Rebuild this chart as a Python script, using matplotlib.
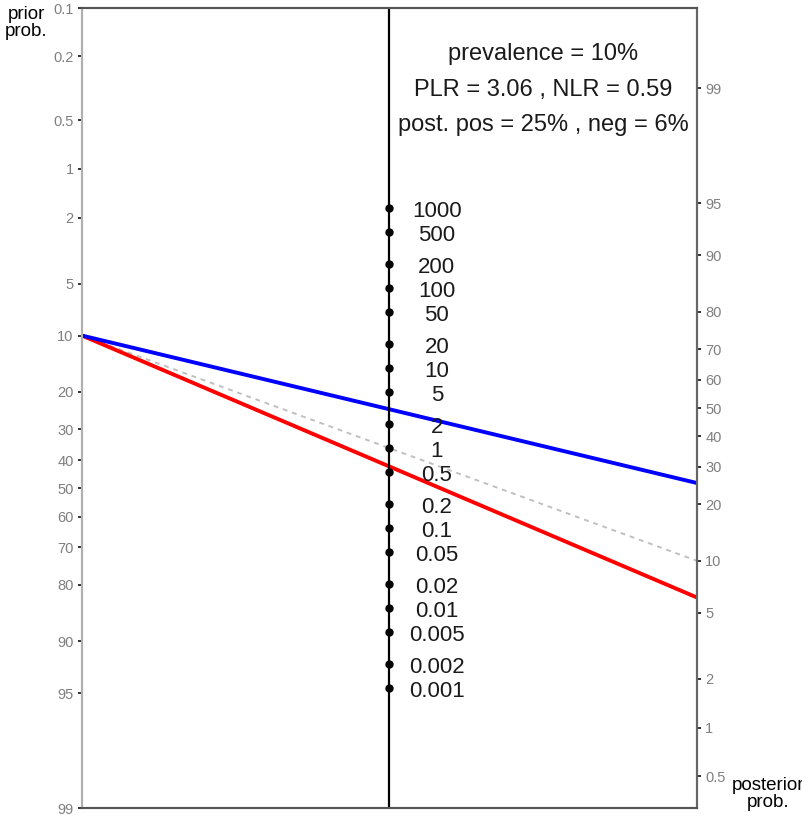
import numpy as np
import matplotlib
matplotlib.use("Agg")
import matplotlib.pyplot as plt

plt.rcParams['font.family'] = ['Liberation Sans', 'DejaVu Sans']

# data
prevalence = 10.0
plr = 3.06
nlr = 0.59
ticks_prob = [0.1, 0.2, 0.5, 1, 2, 5, 10, 20, 30, 40, 50, 60, 70, 80, 90, 95, 99]
ticks_lrs = [0.001, 0.002, 0.005, 0.01, 0.02, 0.05, 0.1, 0.2, 0.5,
             1, 2, 5, 10, 20, 50, 100, 200, 500, 1000]
lr_labels = ["0.001", "0.002", "0.005", "0.01", "0.02", "0.05", "0.1", "0.2", "0.5",
             "1", "2", "5", "10", "20", "50", "100", "200", "500", "1000"]


def logit(p):
    p = np.asarray(p, dtype=float)
    return np.log(p / (1 - p))


tick_lo = logit(np.array(ticks_prob) / 100)
adj_min, adj_max = tick_lo.min(), tick_lo.max()
scale_factor = abs(adj_min) - (adj_max - adj_min) / 2
ylims = (-adj_max, -adj_min)

prior_y = -logit(prevalence / 100)
pos_y = logit(prevalence / 100) + np.log(plr) + scale_factor
neg_y = logit(prevalence / 100) + np.log(nlr) + scale_factor
one_y = logit(prevalence / 100) + scale_factor

odds = prevalence / (100 - prevalence)
post_pos = 100 * odds * plr / (1 + odds * plr)
post_neg = 100 * odds * nlr / (1 + odds * nlr)

fig = plt.figure(figsize=(8.03, 8.17), dpi=100)
ax = fig.add_axes([82 / 803, 1 - 808 / 817, (697 - 82) / 803, 800 / 817])

# lines
ax.plot([-1, 1], [prior_y, one_y], color='#c0c0c0', lw=1.4, ls=(0, (2.5, 2.5)), zorder=2)
ax.plot([-1, 1], [prior_y, neg_y], color='#ff0000', lw=2.8, zorder=3)
ax.plot([-1, 1], [prior_y, pos_y], color='#0000ff', lw=2.8, zorder=3)

# middle LR axis
ax.axvline(0, color='black', lw=1.6, zorder=4)
lr_y = (np.log(ticks_lrs) + scale_factor) / 2
ax.plot(np.zeros(len(lr_y)), lr_y, 'o', color='black', ms=5, zorder=5)
for yy, lab in zip(lr_y, lr_labels):
    ax.text(0.154, yy - 0.045, lab, ha='center', va='center', fontsize=16, color='#1a1a1a')

# annotation
txt = dict(transform=ax.transAxes, ha='center', va='center', fontsize=17, color='#1a1a1a')
ax.text(0.75, 0.942, "prevalence = %d%%" % prevalence, **txt)
ax.text(0.75, 0.898, "PLR = %.2f , NLR = %.2f" % (plr, nlr), **txt)
ax.text(0.75, 0.854, "post. pos = %d%% , neg = %d%%" % (round(post_pos), round(post_neg)), **txt)

# left axis: prior
ax.set_xticks([])
ax.set_yticks(-tick_lo)
ax.set_yticklabels([("%g" % t) for t in ticks_prob])
ax.tick_params(axis='y', length=3, width=1.4, color='#333333', labelcolor='#7f7f7f',
               labelsize=10.5, pad=3)
ax.set_xlim(-1, 1)
ax.set_ylim(*ylims)

# right axis: posterior
ax2 = ax.twinx()
ax2.set_yticks(tick_lo + scale_factor)
ax2.set_yticklabels([("%g" % t) for t in ticks_prob])
ax2.tick_params(axis='y', length=3, width=1.4, color='#333333', labelcolor='#7f7f7f',
                labelsize=10.5, pad=3)
ax2.set_ylim(*ylims)

for a in (ax, ax2):
    for side in ('top', 'bottom'):
        a.spines[side].set_color('#555555')
        a.spines[side].set_linewidth(1.5)
    a.spines['right'].set_color('#666666')
    a.spines['right'].set_linewidth(1.5)
    a.spines['left'].set_color('#b0b0b0')
    a.spines['left'].set_linewidth(1.5)

fig.text(26 / 803, 1 - 23 / 817, "prior\nprob.", ha='center', va='center',
         fontsize=13.5, linespacing=0.95, color='black')
fig.text(768 / 803, 1 - 794 / 817, "posterior\nprob.", ha='center', va='center',
         fontsize=13.5, linespacing=0.95, color='black')

fig.savefig("out.png", dpi=100)
